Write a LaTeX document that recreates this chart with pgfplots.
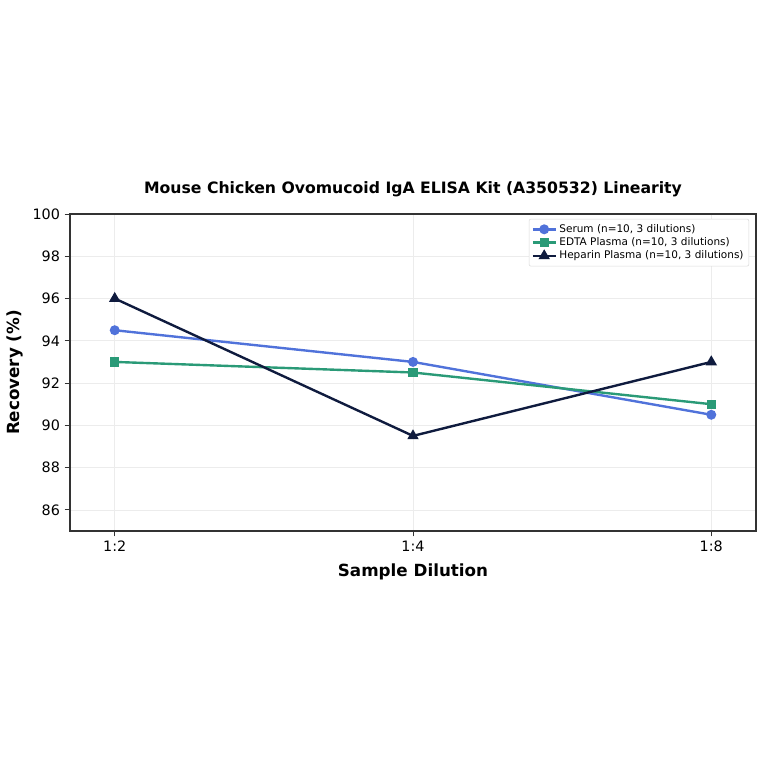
\documentclass[border=0pt]{standalone}
\usepackage{fontspec}
\setmainfont{DejaVu Sans}
\usepackage{pgfplots}
\pgfplotsset{compat=1.18}
\usetikzlibrary{calc}

\definecolor{serum}{HTML}{5072DA}
\definecolor{edta}{HTML}{2A9A77}
\definecolor{hep}{HTML}{0F1B3E}
\definecolor{spine}{HTML}{333333}

\begin{document}
\begin{tikzpicture}
  \begin{axis}[
    scale only axis,
    width=514.5bp,
    height=237.75bp,
    xmin=-0.15, xmax=2.15,
    ymin=85, ymax=100,
    xtick=data,
    xticklabels={1:2, 1:4, 1:8},
    ytick={86,88,...,100},
    /pgf/number format/assume math mode=true,
    tick label style={font=\fontsize{10.8}{12}\selectfont},
    tick align=outside,
    tick pos=left,
    major tick length=4bp,
    axis line style={spine, line width=0.9pt},
    every tick/.style={spine, line width=0.7pt},
    grid=major,
    grid style={gray!15, line width=0.5pt},
    xlabel={\textbf{Sample Dilution}},
    ylabel={\textbf{Recovery (\%)}},
    xlabel style={yshift=-2bp},
    label style={font=\fontsize{12.6}{14}\selectfont},
    title={\textbf{Mouse Chicken Ovomucoid IgA ELISA Kit (A350532) Linearity}},
    title style={font=\fontsize{11.8}{13}\selectfont, yshift=3bp},
    legend style={at={(0.99,0.985)}, anchor=north east,
      font=\fontsize{7.9}{9.5}\selectfont, draw=gray!30, rounded corners=1.5pt,
      row sep=-1.5pt, inner sep=2pt},
    legend cell align=left,
    every axis plot/.append style={line width=1.8pt},
  ]
    \addplot[serum, mark=*, mark size=2.8pt] coordinates {(0,94.5) (1,93) (2,90.5)};
    \addplot[edta, mark=square*, mark size=2.6pt] coordinates {(0,93) (1,92.5) (2,91)};
    \addplot[hep, mark=triangle*, mark size=3.2pt] coordinates {(0,96) (1,89.5) (2,93)};
    \legend{{Serum (n=10, 3 dilutions)}, {EDTA Plasma (n=10, 3 dilutions)}, {Heparin Plasma (n=10, 3 dilutions)}}
  \end{axis}
  \useasboundingbox ($(current axis.south west)+(-52.5bp,-174.75bp)$) rectangle ($(current axis.north east)+(6bp,160.5bp)$);
\end{tikzpicture}
\end{document}
